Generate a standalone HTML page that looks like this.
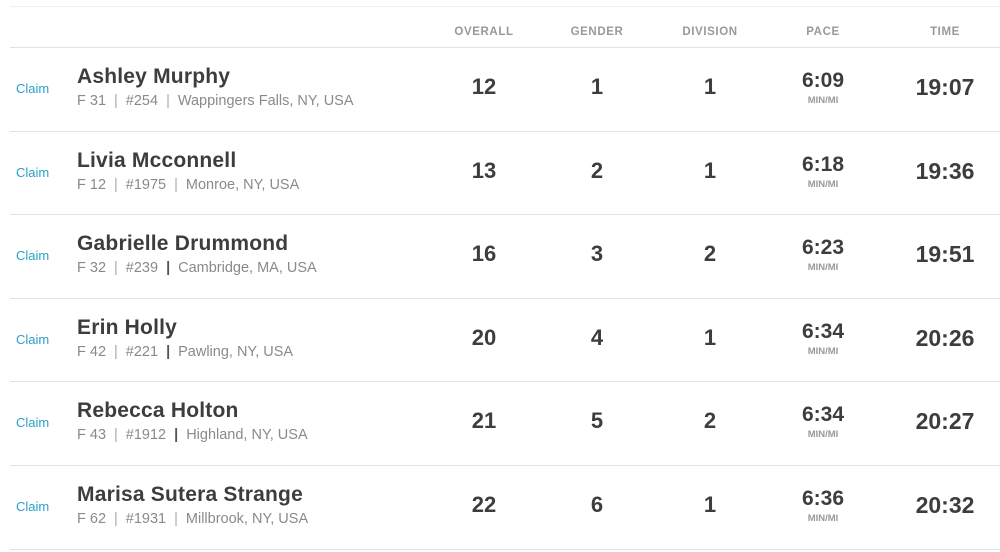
<!DOCTYPE html>
<html><head><meta charset="utf-8"><style>
body{margin:0;width:1000px;height:552px;background:#fff;font-family:"Liberation Sans",sans-serif;position:relative;overflow:hidden}
.a{position:absolute;white-space:nowrap}
.ln{position:absolute;left:10px;right:0;height:1px;background:#e2e2e2}
.h{top:26px;font-size:11.5px;font-weight:bold;color:#999;letter-spacing:0.6px;transform:translateX(-50%)}
.c{transform:translateX(-50%);font-weight:bold;color:#3d3d3d}
.claim{left:16px;font-size:13px;color:#2aa0c8}
.nm{left:77px;font-size:21px;font-weight:bold;color:#3d3d3d;letter-spacing:0.2px}
.sb{left:77px;font-size:14.5px;color:#8a8a8a}
.sb b{color:#555;margin:0 8px}
.sb i{font-style:normal;color:#aaa;margin:0 8px}
</style></head><body>
<div class="ln" style="top:6px;background:#f0f0f0"></div>
<div class="a h" style="left:484px">OVERALL</div>
<div class="a h" style="left:597px">GENDER</div>
<div class="a h" style="left:710px">DIVISION</div>
<div class="a h" style="left:823px">PACE</div>
<div class="a h" style="left:945px">TIME</div>
<div class="ln" style="top:47px"></div>
<div id="rows"></div>
<script>
var d=[["Ashley Murphy","F 31","#254","Wappingers Falls, NY, USA","12","1","1","6:09","19:07",0],
["Livia Mcconnell","F 12","#1975","Monroe, NY, USA","13","2","1","6:18","19:36",0],
["Gabrielle Drummond","F 32","#239","Cambridge, MA, USA","16","3","2","6:23","19:51",1],
["Erin Holly","F 42","#221","Pawling, NY, USA","20","4","1","6:34","20:26",1],
["Rebecca Holton","F 43","#1912","Highland, NY, USA","21","5","2","6:34","20:27",1],
["Marisa Sutera Strange","F 62","#1931","Millbrook, NY, USA","22","6","1","6:36","20:32",0]];
var h="";
d.forEach(function(r,i){var t=47+i*83.6;
var s1="<i>|</i>",s2=r[9]?"<b>|</b>":"<i>|</i>";
h+='<div class="a claim" style="top:'+(t+34)+'px">Claim</div>';
h+='<div class="a nm" style="top:'+(t+18)+'px">'+r[0]+'</div>';
h+='<div class="a sb" style="top:'+(t+46)+'px">'+r[1]+s1+r[2]+s2+r[3]+'</div>';
[[484,r[4]],[597,r[5]],[710,r[6]]].forEach(function(c){h+='<div class="a c" style="left:'+c[0]+'px;top:'+(t+27)+'px;font-size:22px">'+c[1]+'</div>';});
h+='<div class="a c" style="left:823px;top:'+(t+22)+'px;font-size:21px">'+r[7]+'</div>';
h+='<div class="a c" style="left:823px;top:'+(t+48)+'px;font-size:9.5px;color:#999">MIN/MI</div>';
h+='<div class="a c" style="left:945px;top:'+(t+27)+'px;font-size:23px">'+r[8]+'</div>';
h+='<div class="ln" style="top:'+Math.round(t+83.6)+'px"></div>';});
document.getElementById("rows").innerHTML=h;
</script>
</body></html>
